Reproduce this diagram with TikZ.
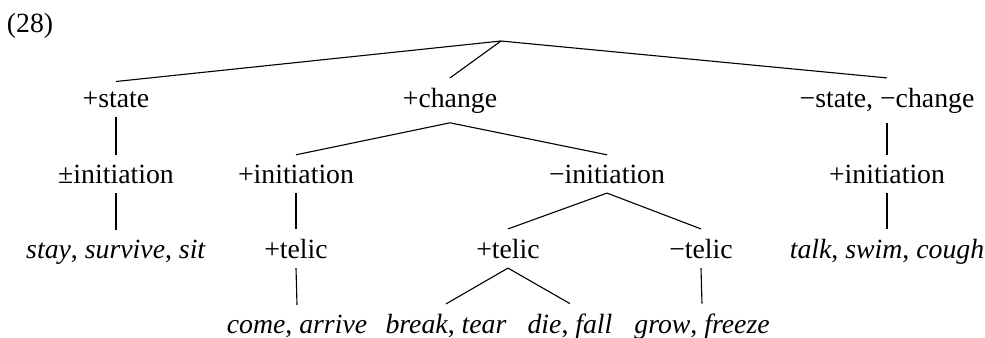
\documentclass[tikz,border=0pt]{standalone}
\usepackage{fontspec}
\setmainfont{Liberation Serif}
\usepackage{tikz}

\begin{document}
\begin{tikzpicture}[x=0.36pt,y=-0.36pt,every node/.style={anchor=base}]
\useasboundingbox (0,0) rectangle (985,337);
\node (ex) at (30,32) {(28)};
\coordinate (top) at (501,41);
% first level
\node (st) at (116,107) {+state};
\node (ch) at (450,107) {+change};
\node (nn) at (887,107) {−state, −change};
% second level
\node (pmi) at (116,183) {±initiation};
\node (pi) at (296,183) {+initiation};
\node (mi) at (607,183) {−initiation};
\node (pi2) at (887,183) {+initiation};
% third level
\node (ssv) at (116,258) {\emph{stay}, \emph{survive}, \emph{sit}};
\node (pt) at (296,258) {+telic};
\node (pt2) at (508,258) {+telic};
\node (mt) at (701,258) {−telic};
\node (tsc) at (887,258) {\emph{talk}, \emph{swim}, \emph{cough}};
% fourth level
\node (ca) at (297,333) {\emph{come}, \emph{arrive}};
\node (bt) at (446,333) {\emph{break}, \emph{tear}};
\node (df) at (570,333) {\emph{die}, \emph{fall}};
\node (gf) at (702,333) {\emph{grow}, \emph{freeze}};
\draw (top) -- (st.north);
\draw (top) -- (ch.north);
\draw (top) -- (nn.north);
\draw (st.south) -- (pmi.north);
\draw (ch.south) -- (pi.north);
\draw (ch.south) -- (mi.north);
\draw (nn.south) -- (pi2.north);
\draw (pmi.south) -- (ssv.north);
\draw (pi.south) -- (pt.north);
\draw (mi.south) -- (pt2.north);
\draw (mi.south) -- (mt.north);
\draw (pi2.south) -- (tsc.north);
\draw (pt.south) -- (ca.north);
\draw (pt2.south) -- (bt.north);
\draw (pt2.south) -- (df.north);
\draw (mt.south) -- (gf.north);
\end{tikzpicture}
\end{document}
